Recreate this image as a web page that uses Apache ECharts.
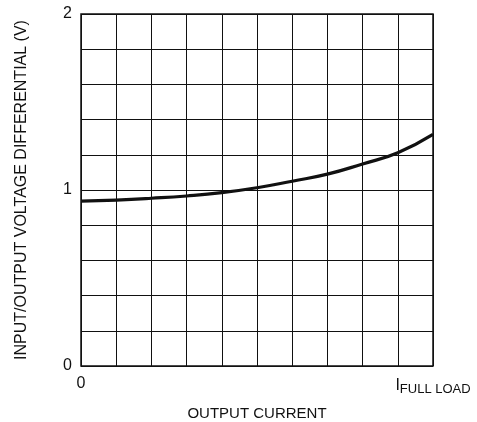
<!DOCTYPE html>
<html><head><meta charset="utf-8">
<script src="https://cdn.jsdelivr.net/npm/echarts@6/dist/echarts.min.js"></script>
<style>html,body{margin:0;padding:0;background:#fff}#c{width:477px;height:422px}</style>
</head><body><div id="c"></div>
<script>
const currentFrac = [0, 0.1, 0.2, 0.3, 0.4, 0.5, 0.6, 0.7, 0.8, 0.9, 1.0];
const voltageDiff = [0.937, 0.943, 0.953, 0.966, 0.985, 1.013, 1.05, 1.09, 1.148, 1.212, 1.316];
const yTickLabels = {0: '0', 1: '1', 2: '2'};
const xTitle = 'OUTPUT CURRENT';
const yTitle = 'INPUT/OUTPUT VOLTAGE DIFFERENTIAL (V)';

const FONT = '"Liberation Sans Narrow", "Liberation Sans", Arial, sans-serif';
const chart = echarts.init(document.getElementById('c'));
chart.setOption({
  animation: false,
  backgroundColor: '#fff',
  grid: {left: 81, right: 44, top: 14, bottom: 56, show: true, borderColor: '#111', borderWidth: 1.5,
         backgroundColor: 'transparent', containLabel: false, outerBoundsMode: 'none'},
  xAxis: {
    type: 'value', min: 0, max: 1, interval: 0.1,
    name: xTitle, nameLocation: 'middle', nameGap: 40,
    nameTextStyle: {fontFamily: FONT, fontSize: 15, color: '#111'},
    axisLine: {show: false}, axisTick: {show: false},
    splitLine: {show: true, lineStyle: {color: '#111', width: 1}},
    axisLabel: {
      fontFamily: FONT, fontSize: 16, color: '#111', margin: 10,
      formatter: function (v) {
        if (Math.abs(v) < 1e-9) return '0';
        if (Math.abs(v - 1) < 1e-9) return '{i|I}{s|FULL LOAD}';
        return '';
      },
      rich: {
        i: {fontFamily: FONT, fontSize: 16, color: '#111'},
        s: {fontFamily: FONT, fontSize: 13, color: '#111', padding: [7, 0, 0, 0]}
      }
    }
  },
  yAxis: {
    type: 'value', min: 0, max: 2, interval: 0.2,
    name: yTitle, nameLocation: 'middle', nameGap: 51,
    nameTextStyle: {fontFamily: FONT, fontSize: 16, color: '#111'},
    axisLine: {show: false}, axisTick: {show: false},
    splitLine: {show: true, lineStyle: {color: '#111', width: 1}},
    axisLabel: {
      fontFamily: FONT, fontSize: 16, color: '#111', margin: 9,
      formatter: function (v) {
        const r = Math.round(v);
        return Math.abs(v - r) < 1e-9 && yTickLabels[r] !== undefined ? yTickLabels[r] : '';
      }
    }
  },
  series: [{
    type: 'line', smooth: true, showSymbol: false,
    data: currentFrac.map((x, i) => [x, voltageDiff[i]]),
    lineStyle: {color: '#111', width: 3.2}
  }]
});
</script></body></html>
